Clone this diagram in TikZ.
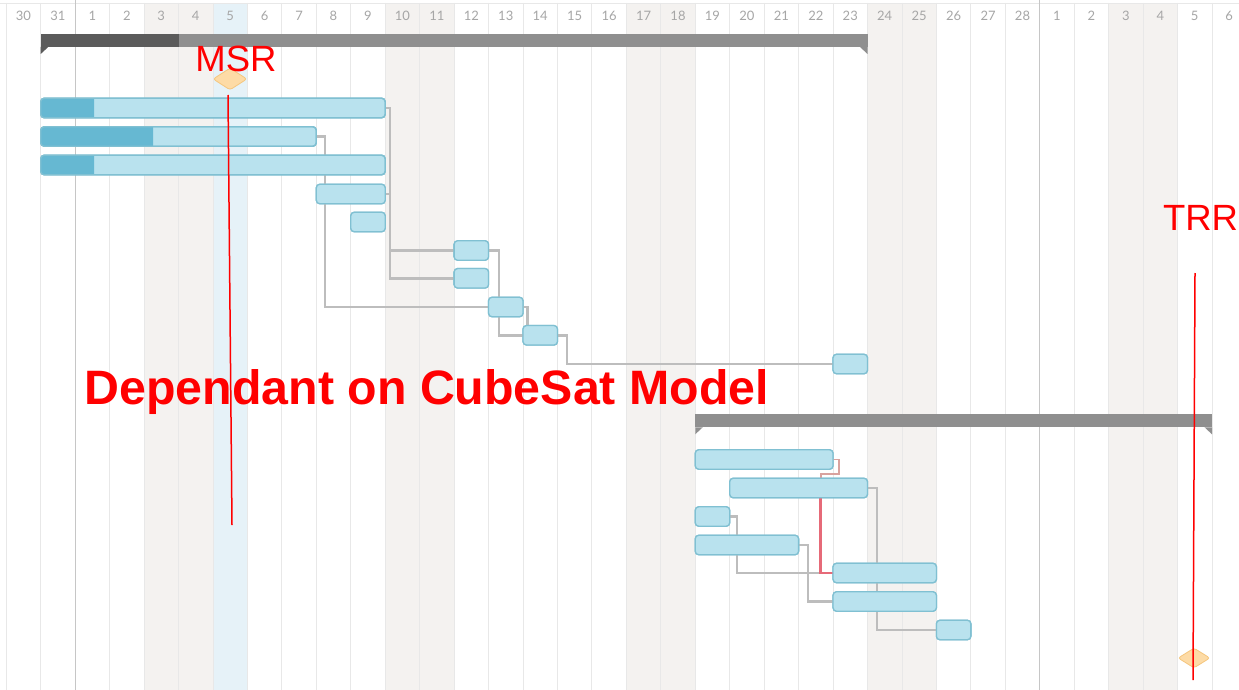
\documentclass[tikz,border=0pt]{standalone}
\usepackage{fontspec}
\setmainfont{Liberation Sans}
\newfontfamily\headfont{Lato}
\usetikzlibrary{shapes.geometric}

\definecolor{gridline}{HTML}{E8E8E8}
\definecolor{monthline}{HTML}{C6C6C6}
\definecolor{weekend}{HTML}{F4F2F0}
\definecolor{today}{HTML}{E6F2F8}
\definecolor{barfill}{HTML}{B9E2EE}
\definecolor{barline}{HTML}{80C0D2}
\definecolor{progfill}{HTML}{66B8D2}
\definecolor{sumlight}{HTML}{8F8F8F}
\definecolor{sumdark}{HTML}{5B5B5B}
\definecolor{linkgray}{HTML}{BDBDBD}
\definecolor{critlight}{HTML}{D9A29E}
\definecolor{crit}{HTML}{E66A78}
\definecolor{msfill}{HTML}{FDDBA6}
\definecolor{msline}{HTML}{F5C67E}
\definecolor{headtext}{HTML}{A6A6A6}
\definecolor{annot}{HTML}{FF0000}

% column k starts at 6.25 + 34.45 k
\newcommand\colx[1]{6.25+34.45*#1}

% task bar: name, left x, right x, centre y
\newcommand\taskbar[4]{%
  \node[bar, minimum width={#3-#2}] (#1) at ({(#2+#3)/2},#4) {};}
% darker progress part of a bar: name, x where progress ends
\newcommand\barprogress[2]{%
  \begin{scope}
    \clip (#1.south west) rectangle (#2,0 |- #1.north);
    \fill[progfill, rounded corners=3.5pt] (#1.south west) rectangle (#1.north east);
  \end{scope}
  \draw[barline, line width=1.3pt, rounded corners=3.5pt] (#1.south west) rectangle (#1.north east);}

\tikzset{
  bar/.style={draw=barline, fill=barfill, line width=1.3pt, rounded corners=3.5pt,
    minimum height=19.5pt, inner sep=0pt, outer sep=0pt},
  summary/.style={fill=sumlight, minimum height=13pt, inner sep=0pt, outer sep=0pt},
  link/.style={draw=linkgray, line width=2.4pt},
  critlink/.style={draw=crit, line width=2.6pt},
  critstub/.style={draw=critlight, line width=1.9pt},
  milestone/.style={diamond, fill=msfill, draw=msline, line width=0.8pt,
    minimum width=34pt, minimum height=22pt, inner sep=0pt, rounded corners=2.5pt},
  annotline/.style={draw=annot, line width=1.5pt},
  annotlabel/.style={text=annot, font=\fontsize{36.5}{40}\selectfont, inner sep=0pt, anchor=base},
  daylabel/.style={text=headtext, font=\headfont\fontsize{13}{13}\selectfont, inner sep=0pt, anchor=base},
}

\begin{document}
\begin{tikzpicture}[x=1pt, y=-1pt]
\useasboundingbox (0,0) rectangle (1239,690);
\fill[white] (0,0) rectangle (1239,690);

% weekends and the current day
\foreach \k in {4,5,11,12,18,19,25,26,32,33}
  \fill[weekend] ({\colx{\k}},3) rectangle ({\colx{(\k+1)}},690);
\fill[today] ({\colx{6}},3) rectangle ({\colx{7}},690);

% grid
\draw[gridline, line width=0.8pt] (0,3) -- (1239,3);
\foreach \k in {0,1,3,4,...,29,31,32,...,35}
  \draw[gridline, line width=0.9pt] ({\colx{\k}},3) -- ({\colx{\k}},690);
\foreach \k in {2,30}
  \draw[monthline, line width=1pt] ({\colx{\k}},0) -- ({\colx{\k}},690);

% day numbers
\foreach \d [count=\i from 0] in {30,31,1,2,3,4,5,6,7,8,9,10,11,12,13,14,15,16,17,18,19,20,21,22,23,24,25,26,27,28,1,2,3,4,5,6}
  \node[daylabel] (day\i) at ({\colx{\i}+17.2},21) {\d};

% ---------- first phase ----------
\taskbar{ta}{40.7}{385.2}{108}
\taskbar{tb}{40.7}{316.3}{136.5}
\taskbar{tc}{40.7}{385.2}{165}
\taskbar{td}{316.3}{385.2}{194}
\taskbar{te}{350.75}{385.2}{222}
\taskbar{tf}{454.1}{488.55}{250.5}
\taskbar{tg}{454.1}{488.55}{278.3}
\taskbar{th}{488.55}{523}{307}
\taskbar{ti}{523}{557.45}{335.3}
\taskbar{tj}{833.05}{867.5}{364}

% ---------- second phase ----------
\taskbar{tl}{695.25}{833.05}{459.5}
\taskbar{tm}{729.7}{867.5}{488}
\taskbar{tn}{695.25}{729.7}{516.5}
\taskbar{to}{695.25}{798.6}{545}
\taskbar{tp}{833.05}{936.4}{573}
\taskbar{tq}{833.05}{936.4}{601.5}
\taskbar{tr}{936.4}{970.85}{630}

% dependency links
\path[link] (ta.east) -- ++(4.8,0) |- (tf.west);
\path[link] (ta.east) -- ++(4.8,0) |- (tg.west);
\path[link] (td.east) -- ++(4.8,0) |- (tf.west);
\path[link] (tb.east) -- ++(8.7,0) |- (th.west);
\path[link] (tf.east) -- ++(10.5,0) |- (ti.west);
\path[link] (th.east) -| ([xshift=4.5pt]ti.north west);
\path[link] (ti.east) -- ++(9.5,0) |- (tj.west);
\path[link] (tm.east) -- ++(9.2,0) |- (tr.west);
\path[link] (tn.east) -- ++(7,0) |- (tp.west);
\path[link] (to.east) -- ++(9.1,0) |- (tq.west);
\coordinate (cbend) at (820.7,474);
\path[critstub] (tl.east) -- ++(6,0) |- (cbend) -- ++(0,6);
\path[critlink] (cbend) ++(0,6) |- (tp.west);

% redraw the bars over their links
\foreach \b in {ta,tb,tc,td,te,tf,tg,th,ti,tj,tl,tm,tn,to,tp,tq,tr}
  \draw[barline, fill=barfill, line width=1.3pt, rounded corners=3.5pt]
    (\b.south west) rectangle (\b.north east);
\barprogress{ta}{94}
\barprogress{tb}{153}
\barprogress{tc}{94}

% summary bars
\node[summary, minimum width={867.5-40.7}] (sa) at ({(40.7+867.5)/2},40.5) {};
\fill[sumdark] (sa.south west) rectangle (178.5,0 |- sa.north);
\fill[sumdark] (sa.south west) -- ++(7.5,0) -- ++(-7.5,7) -- cycle;
\fill[sumlight] (sa.south east) -- ++(-7.5,0) -- ++(7.5,7) -- cycle;

\node[summary, minimum width={1212-695.25}] (sb) at ({(695.25+1212)/2},420.8) {};
\fill[sumlight] (sb.south west) -- ++(7.5,0) -- ++(-7.5,7) -- cycle;
\fill[sumlight] (sb.south east) -- ++(-7.5,0) -- ++(7.5,7) -- cycle;

% milestones
\node[milestone] (msr) at (230,79) {};
\node[milestone, minimum width=32pt, minimum height=20pt] (trr) at (1194,658) {};

% annotations
\node[text=annot, font=\bfseries\fontsize{48.3}{50}\selectfont, anchor=base west, inner sep=0pt]
  (note) at (84.5,404) {Dependant on CubeSat Model};
\node[annotlabel] (msrlabel) at (236,71.7) {MSR};
\node[annotlabel] (trrlabel) at (1200.5,230) {TRR};
\coordinate (msrtop) at (228,95);
\coordinate (msrfoot) at (232,525);
\coordinate (trrtop) at (1195,273);
\coordinate (trrfoot) at (1193,680);
\path[annotline] (msrtop) -- (msrfoot);
\path[annotline] (trrtop) -- (trrfoot);
\end{tikzpicture}
\end{document}
